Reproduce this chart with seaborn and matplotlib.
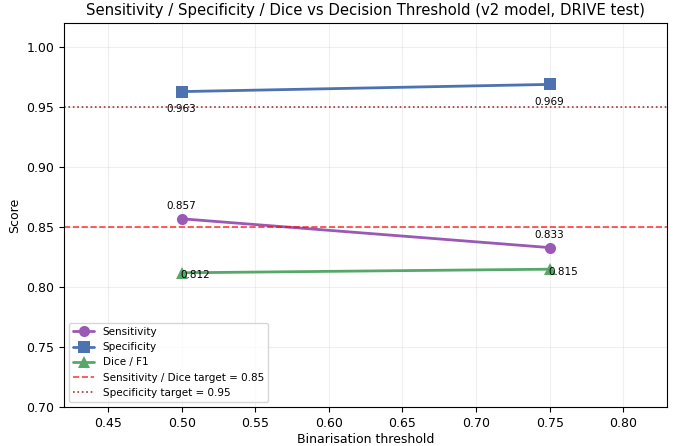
import seaborn as sns
import pandas as pd
import matplotlib
matplotlib.use("Agg")
import matplotlib.pyplot as plt

thresholds = [0.50, 0.75]
sensitivity = [0.857, 0.833]
specificity = [0.963, 0.969]
dice = [0.812, 0.815]

sens_target = 0.85
spec_target = 0.95

df = pd.DataFrame({
    "threshold": thresholds * 3,
    "score": sensitivity + specificity + dice,
    "metric": ["Sensitivity"] * 2 + ["Specificity"] * 2 + ["Dice / F1"] * 2,
})

sns.set_style("ticks")
plt.rcParams["font.family"] = ["DejaVu Sans"]
for key in ["text.color", "axes.labelcolor", "xtick.color", "ytick.color", "axes.edgecolor"]:
    plt.rcParams[key] = "black"

fig, ax = plt.subplots(figsize=(6.81, 4.46), dpi=100)

styles = {
    "Sensitivity": ("#9b59b6", "o"),
    "Specificity": ("#4c72b0", "s"),
    "Dice / F1": ("#55a868", "^"),
}
offsets = {
    "Sensitivity": (0, 7),
    "Specificity": (0, -15),
    "Dice / F1": (10, -4),
}

for name, (color, marker) in styles.items():
    sub = df[df["metric"] == name]
    sns.lineplot(data=sub, x="threshold", y="score", color=color, marker=marker,
                 markersize=8, linewidth=2, markeredgewidth=0, label=name, ax=ax)
    for x, y in zip(sub["threshold"], sub["score"]):
        ax.annotate(f"{y:.3f}", (x, y), textcoords="offset points",
                    xytext=offsets[name], ha="center", fontsize=7.5)

ax.axhline(sens_target, color="red", linestyle="--", linewidth=1.2, alpha=0.75,
           label="Sensitivity / Dice target = 0.85")
ax.axhline(spec_target, color="darkred", linestyle=":", linewidth=1.2, alpha=0.8,
           label="Specificity target = 0.95")

ax.set_xlim(0.42, 0.83)
ax.set_ylim(0.70, 1.02)
ax.grid(alpha=0.3)
ax.set_xlabel("Binarisation threshold", fontsize=9, labelpad=2)
ax.set_ylabel("Score", fontsize=9)
ax.set_title("Sensitivity / Specificity / Dice vs Decision Threshold (v2 model, DRIVE test)",
             fontsize=10.7)
ax.tick_params(labelsize=9)
ax.legend(loc="lower left", fontsize=7.5)

fig.subplots_adjust(left=0.094, right=0.98, top=0.948, bottom=0.087)
fig.savefig("out.png", dpi=100)
